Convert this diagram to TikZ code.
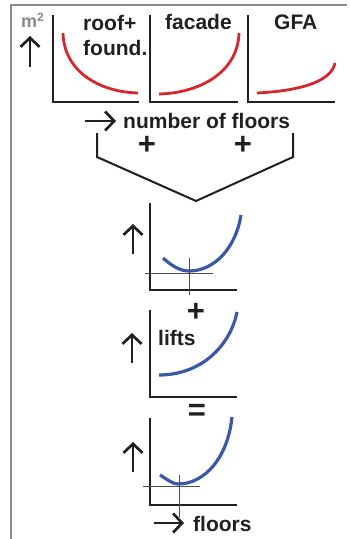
\documentclass[tikz,border=0pt]{standalone}
\usepackage{fontspec}
\setmainfont{Liberation Sans}
\usepackage{tikz}
\usetikzlibrary{arrows.meta,positioning,calc}
\definecolor{Ink}{HTML}{231F20}
\definecolor{CostRed}{HTML}{D8262E}
\definecolor{SumBlue}{HTML}{3A58A8}
\definecolor{FrameGrey}{HTML}{8A8A8A}

\begin{document}
\begin{tikzpicture}[
			x=1pt,y=-1pt,
			lbl/.style={font=\bfseries\fontsize{21}{24}\selectfont,text=Ink,inner sep=0pt,anchor=base west},
			op/.style={font=\bfseries\fontsize{31}{31}\selectfont,text=Ink,inner sep=0pt},
			axis/.style={Ink,line width=2.6pt,line cap=butt},
			dir/.style={-{Straight Barb[length=9pt,width=19pt]},Ink,line width=2.7pt},
			redcurve/.style={CostRed,line width=2.8pt},
			bluecurve/.style={SumBlue,line width=3.2pt},
			opt/.style={Ink!80,line width=0.9pt},
			bracket/.style={Ink,line width=2pt}
		]
		\useasboundingbox (0,0) rectangle (349,539);
		% frame
		\draw[FrameGrey,line width=1.6pt] (11,539) -- (11,5) -- (347,5);

		% top row: three cost components
		\node[font=\bfseries\fontsize{18}{20}\selectfont,text=FrameGrey,inner sep=0pt,anchor=base west] (unit) at (21,27)
			{m\raisebox{0.55ex}{\fontsize{12}{12}\selectfont 2}};
		\coordinate (u0) at (30,67);
		\coordinate (u1) at (30,36);
		\draw[dir] (u0) -- (u1);

		\draw[axis] (53,15) |- (139,102);
		\draw[axis] (150,15) |- (238,102);
		\draw[axis] (248,15) |- (335,102);

		\node[lbl] (roof) at (83,30) {roof+};
		\node[lbl] (found) at (83,55) {found.};
		\node[lbl] (facade) at (165,29) {facade};
		\node[lbl] (gfa) at (274,29) {GFA};

		\draw[redcurve] (63,33) .. controls (64,72) and (100,92) .. (138,93);
		\draw[redcurve] (159,94) .. controls (200,93) and (238,72) .. (239,33);
		\draw[redcurve] (257,93) .. controls (296,91) and (331,83) .. (335,63);

		\coordinate (n0) at (85,121);
		\coordinate (n1) at (116,121);
		\draw[dir] (n0) -- (n1);
		\node[lbl] (floors) at (123,128) {number of floors};

		% summing bracket
		\coordinate (bl) at (97,133);
		\coordinate (br) at (293,133);
		\coordinate (tip) at (196,201);
		\draw[bracket] (bl) -- ++(0,24) -- (tip) -- ($(br)+(0,24)$) -- (br);
		\node[op] (plus1) at (147,145) {+};
		\node[op] (plus2) at (243,145) {+};

		% sum of the three
		\draw[axis] (150,203) |- (237,290);
		\draw[dir] (133,254) -- (133,224);
		\draw[bluecurve] (163,258) .. controls (172,266) and (180,271) .. (189,271)
			.. controls (215,271) and (236,247) .. (241,215);
		\draw[opt] (145,273) -- (213,273);
		\draw[opt] (189,258) -- (189,295);

		\node[op] (plus3) at (196,312) {+};

		% lifts
		\draw[axis] (150,310) |- (237,397);
		\draw[dir] (132,363) -- (132,333);
		\node[lbl] (lifts) at (158,345) {lifts};
		\draw[bluecurve] (159,375) .. controls (200,375) and (230,347) .. (237,312);

		\node[op] (equals) at (197,412) {=};

		% total
		\draw[axis] (150,418) |- (237,505);
		\draw[dir] (133,472) -- (133,442);
		\draw[bluecurve] (160,475) .. controls (168,480) and (173,484) .. (178,484)
			.. controls (205,484) and (228,457) .. (232,417);
		\draw[opt] (143,486) -- (200,486);
		\draw[opt] (179,475) -- (179,517);

		\coordinate (f0) at (154,523);
		\coordinate (f1) at (184,523);
		\draw[dir] (f0) -- (f1);
		\node[lbl] (fl) at (193,531) {floors};
	\end{tikzpicture}
\end{document}
